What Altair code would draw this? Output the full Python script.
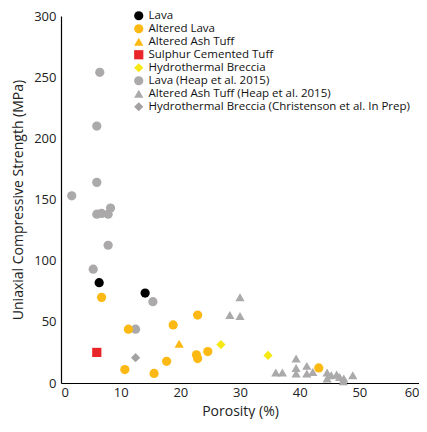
import altair as alt
import pandas as pd

series_names = [
    "Lava",
    "Altered Lava",
    "Altered Ash Tuff",
    "Sulphur Cemented Tuff",
    "Hydrothermal Breccia",
    "Lava (Heap et al. 2015)",
    "Altered Ash Tuff (Heap et al. 2015)",
    "Hydrothermal Breccia (Christenson et al. In Prep)",
]
series_colors = ["#000000", "#FDB913", "#FDB913", "#E8262A", "#F5E813",
                 "#ABA9A9", "#ABA9A9", "#A3A1A1"]
series_shapes = ["circle", "circle", "triangle-up", "square", "diamond",
                 "circle", "triangle-up", "diamond"]

lava_x = [6.4, 14.1]
lava_y = [82, 73.5]

alt_lava_x = [6.8, 11.3, 18.8, 22.9, 10.7, 17.7, 15.6, 22.7, 22.9, 24.6, 43.2]
alt_lava_y = [70, 44, 47.5, 55.5, 11, 17.7, 7.8, 23, 20, 25.7, 12.3]

alt_ash_x = [19.8]
alt_ash_y = [32]

sulphur_x = [6.0]
sulphur_y = [25]

breccia_x = [26.8, 34.7]
breccia_y = [31.4, 22.5]

lava_heap_x = [6.5, 6.0, 6.0, 1.8, 6.0, 6.8, 7.9, 8.3, 7.9, 5.4, 15.4, 12.5]
lava_heap_y = [254, 210, 164, 153, 138, 138.6, 138, 143, 112.6, 93, 66.5, 44]

ash_heap_x = [30.0, 28.3, 30.0, 36.0, 37.1, 39.4, 39.4, 39.4, 41.2, 41.2, 42.2,
              44.6, 44.6, 45.3, 46.2, 46.7, 47.4, 47.3, 48.9]
ash_heap_y = [70, 55.5, 54.7, 8.6, 8.6, 20, 12.3, 7.8, 14, 7.8, 9,
              8.6, 3.7, 6.4, 7, 5, 3.7, 1.5, 6.4]

breccia_chr_x = [12.5]
breccia_chr_y = [20.7]

groups = [
    ("Lava (Heap et al. 2015)", lava_heap_x, lava_heap_y),
    ("Altered Ash Tuff (Heap et al. 2015)", ash_heap_x, ash_heap_y),
    ("Hydrothermal Breccia (Christenson et al. In Prep)", breccia_chr_x, breccia_chr_y),
    ("Lava", lava_x, lava_y),
    ("Altered Lava", alt_lava_x, alt_lava_y),
    ("Altered Ash Tuff", alt_ash_x, alt_ash_y),
    ("Sulphur Cemented Tuff", sulphur_x, sulphur_y),
    ("Hydrothermal Breccia", breccia_x, breccia_y),
]
rows = []
for i, (name, xs, ys) in enumerate(groups):
    for x, y in zip(xs, ys):
        rows.append({"series": name, "porosity": x, "ucs": y, "order": i})
df = pd.DataFrame(rows)

size_map = {"circle": 85, "triangle-up": 60, "square": 80, "diamond": 70}
series_sizes = [size_map[s] for s in series_shapes]

chart = alt.Chart(df).mark_point(filled=True, opacity=1, strokeWidth=0).encode(
    x=alt.X("porosity:Q", title="Porosity (%)",
            scale=alt.Scale(domain=[0, 60], nice=False, zero=True),
            axis=alt.Axis(values=[0, 10, 20, 30, 40, 50, 60], grid=False, ticks=False,
                          labelPadding=3, titlePadding=5)),
    y=alt.Y("ucs:Q", title="Uniaxial Compressive Strength (MPa)",
            scale=alt.Scale(domain=[0, 300], nice=False),
            axis=alt.Axis(values=[0, 50, 100, 150, 200, 250, 300], grid=False, ticks=False,
                          labelPadding=5, titlePadding=8)),
    color=alt.Color("series:N",
                    scale=alt.Scale(domain=series_names, range=series_colors),
                    legend=alt.Legend(title=None, orient="none", legendX=72, legendY=-6,
                                      labelFont="Open Sans", labelFontSize=11.5,
                                      labelColor="#111111", symbolSize=45,
                                      rowPadding=0, labelOffset=4,
                                      symbolStrokeWidth=0, labelLimit=400)),
    shape=alt.Shape("series:N",
                    scale=alt.Scale(domain=series_names, range=series_shapes)),
    size=alt.Size("series:N",
                  scale=alt.Scale(domain=series_names, range=series_sizes),
                  legend=None),
    order=alt.Order("order:Q"),
).properties(
    width=358, height=367,
    autosize=alt.AutoSizeParams(type="none"),
    padding={"left": 53, "top": 8, "right": 0, "bottom": 36},
).configure_view(stroke=None).configure_axis(
    domainColor="#000000", domainWidth=1.2,
    labelFont="Open Sans", labelFontSize=13, labelColor="#222222",
    titleFont="Open Sans", titleFontSize=14, titleFontWeight="normal", titleColor="#222222",
)

chart.save("out.html", embed_options={"renderer": "svg", "actions": False})
